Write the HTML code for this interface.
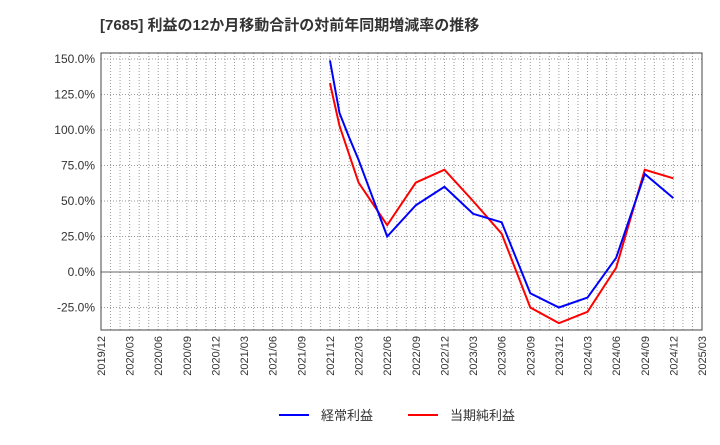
<!DOCTYPE html>
<html><head><meta charset="utf-8"><style>
body{margin:0;background:#fff;font-family:"Liberation Sans","Noto Sans CJK JP",sans-serif}
</style></head><body>
<svg id="c" width="720" height="440" xmlns="http://www.w3.org/2000/svg"></svg>
<script>
const xLabels=["2019/12","2020/03","2020/06","2020/09","2020/12","2021/03","2021/06","2021/09","2021/12","2022/03","2022/06","2022/09","2022/12","2023/03","2023/06","2023/09","2023/12","2024/03","2024/06","2024/09","2024/12","2025/03"];
const yTicks=[150,125,100,75,50,25,0,-25];
const months=[24,25,26,27,30,33,36,39,42,45,48,51,54,57,60];
const blue=[149,112,95,79,25,47,60,41,35,-15,-25,-18,10,69,52];
const red=[133,103,83,63,33,63,72,50,27,-25,-36,-28,3,72,66];
const svg=document.getElementById('c');const NS="http://www.w3.org/2000/svg";
const L=101,R=702,T=53,B=330;
const X=m=>L+m*(R-L)/63;const Y=v=>272-v*35.5/25;
function add(t,a,txt){const e=document.createElementNS(NS,t);for(const k in a)e.setAttribute(k,a[k]);if(txt!=null)e.textContent=txt;svg.appendChild(e);return e;}
let e;
e=add('text',{x:100,y:30,'font-size':15,'font-weight':'bold',fill:'#333'},'[7685]  利益の12か月移動合計の対前年同期増減率の推移');

for(let m=1;m<63;m++){e=add('line',{x1:X(m),x2:X(m),y1:T,y2:B,stroke:'#999','stroke-dasharray':'1,2','stroke-width':1});
}
yTicks.forEach(v=>{const y=Y(v);
e=add('line',{x1:L,x2:R,y1:y,y2:y,stroke:v===0?'#666':'#999','stroke-dasharray':v===0?'':'1,2'});

e=add('text',{x:L-6,y:y+4,'text-anchor':'end','font-size':12,fill:'#333'},v.toFixed(1)+'%');
});
e=add('rect',{x:L,y:T,width:R-L,height:B-T,fill:'none',stroke:'#444'});

xLabels.forEach((s,i)=>{const x=X(i*3);
e=add('text',{x:x+4,y:B+6,'text-anchor':'end','font-size':11,fill:'#333',transform:`rotate(-90 ${x+4} ${B+6})`},s);
});
function line(d,c,n){e=add('polyline',{points:d.map((v,i)=>X(months[i])+','+Y(v)).join(' '),fill:'none',stroke:c,'stroke-width':2});
}
line(red,'#f00','series-net-income');line(blue,'#00f','series-ordinary-income');
e=add('line',{x1:279,x2:309,y1:415,y2:415,stroke:'#00f','stroke-width':2});
e=add('text',{x:321,y:420,'font-size':13,fill:'#333'},'経常利益');
e=add('line',{x1:408,x2:438,y1:415,y2:415,stroke:'#f00','stroke-width':2});
e=add('text',{x:450,y:420,'font-size':13,fill:'#333'},'当期純利益');
</script>
</body></html>
